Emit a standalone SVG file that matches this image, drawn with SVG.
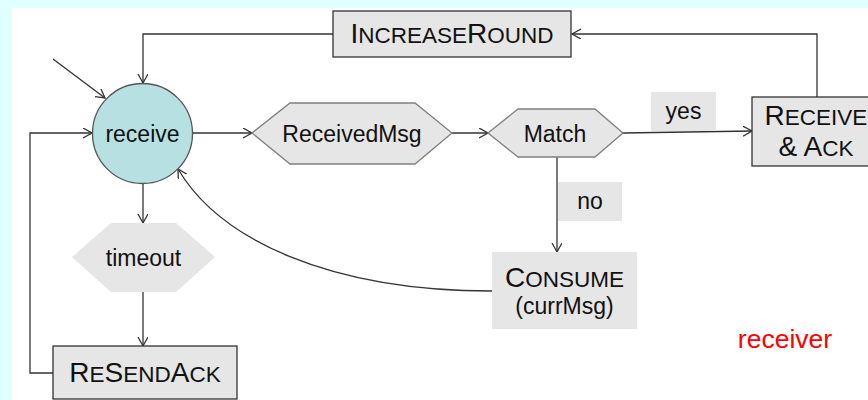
<svg xmlns="http://www.w3.org/2000/svg" width="868" height="400" viewBox="0 0 868 400">
  <defs>
    <marker id="arr" markerUnits="userSpaceOnUse" markerWidth="12" markerHeight="12" refX="9" refY="5" orient="auto">
      <path d="M0,0 L9,5 L0,10" fill="none" stroke="#333" stroke-width="1.3"/>
    </marker>
    <style>
      text { font-family: "Liberation Sans", Arial, sans-serif; fill: #111; }
      .t { font-size: 23px; }
      .cap { font-size: 28px; }
      .sc { font-size: 22.5px; }
      .box { fill: #e6e6e6; stroke: #333; stroke-width: 1.3; }
      .flat { fill: #e6e6e6; stroke: none; }
      .hex { fill: #e6e6e6; stroke: #808080; stroke-width: 1.3; }
      .edge { fill: none; stroke: #333; stroke-width: 1.3; }
    </style>
  </defs>

  <!-- page background -->
  <rect x="0" y="0" width="868" height="400" fill="#e0ffff"/>
  <rect x="12" y="8" width="856" height="392" fill="#ffffff"/>

  <!-- connectors -->
  <g id="connectors">
    <line class="edge" x1="53" y1="59" x2="105" y2="98" marker-end="url(#arr)"/>
    <polyline class="edge" points="333,34 143,34 143,83" marker-end="url(#arr)"/>
    <polyline class="edge" points="817,97 817,34 572,34" marker-end="url(#arr)"/>
    <polyline class="edge" points="53,373 30,373 30,133 92,133" marker-end="url(#arr)"/>
    <line class="edge" x1="143" y1="184" x2="143" y2="223" marker-end="url(#arr)"/>
    <line class="edge" x1="143" y1="292" x2="143" y2="346" marker-end="url(#arr)"/>
    <line class="edge" x1="193" y1="133" x2="252" y2="133" marker-end="url(#arr)"/>
    <line class="edge" x1="452" y1="133" x2="488" y2="133" marker-end="url(#arr)"/>
    <line class="edge" x1="623" y1="133" x2="752" y2="131" marker-end="url(#arr)"/>
    <line class="edge" x1="557" y1="157" x2="557" y2="252" marker-end="url(#arr)"/>
    <path class="edge" d="M492,291 C330,291 220,240 178,169" marker-end="url(#arr)"/>
  </g>

  <!-- edge labels -->
  <g id="label-yes">
    <rect class="flat" x="651" y="92" width="65" height="39"/>
    <text class="t" x="683.5" y="119" text-anchor="middle">yes</text>
  </g>
  <g id="label-no">
    <rect class="flat" x="558" y="182" width="64" height="39"/>
    <text class="t" x="590" y="209" text-anchor="middle">no</text>
  </g>

  <!-- nodes -->
  <g id="receive">
    <circle cx="142.5" cy="133.5" r="50" fill="#b7e0e3" stroke="#555" stroke-width="1.3"/>
    <text class="t" x="142.5" y="141.5" text-anchor="middle">receive</text>
  </g>

  <g id="increase-round">
    <rect class="box" x="333" y="11" width="238" height="46"/>
    <text x="452" y="43" text-anchor="middle"><tspan class="cap">I</tspan><tspan class="sc">NCREASE</tspan><tspan class="cap">R</tspan><tspan class="sc">OUND</tspan></text>
  </g>

  <g id="received-msg">
    <polygon class="hex" points="252,133 290,103 415,103 452,133 415,164 290,164"/>
    <text class="t" x="352" y="141.5" text-anchor="middle">ReceivedMsg</text>
  </g>

  <g id="match">
    <polygon class="hex" points="488,133 518,109 595,109 623,133 595,157 518,157"/>
    <text class="t" x="555" y="141.5" text-anchor="middle">Match</text>
  </g>

  <g id="receive-ack">
    <rect class="box" x="752" y="97" width="128" height="69"/>
    <text x="816" y="125" text-anchor="middle"><tspan class="cap">R</tspan><tspan class="sc">ECEIVE</tspan></text>
    <text x="816" y="156" text-anchor="middle"><tspan class="cap">&amp; A</tspan><tspan class="sc">CK</tspan></text>
  </g>

  <g id="timeout">
    <polygon class="flat" points="72,257 111,223 176,223 215,257 176,292 111,292"/>
    <text class="t" x="143.5" y="266" text-anchor="middle">timeout</text>
  </g>

  <g id="consume">
    <rect class="flat" x="492" y="252" width="145" height="77"/>
    <text x="564.5" y="287" text-anchor="middle"><tspan class="cap">C</tspan><tspan class="sc">ONSUME</tspan></text>
    <text class="t" x="564.5" y="314" text-anchor="middle">(currMsg)</text>
  </g>

  <g id="resend-ack">
    <rect class="box" x="53" y="346" width="184" height="53"/>
    <text x="145" y="382" text-anchor="middle"><tspan class="cap">R</tspan><tspan class="sc">E</tspan><tspan class="cap">S</tspan><tspan class="sc">END</tspan><tspan class="cap">A</tspan><tspan class="sc">CK</tspan></text>
  </g>

  <g id="receiver-title">
    <text x="785" y="348" text-anchor="middle" font-size="26.5" style="fill:#ff0000">receiver</text>
  </g>
</svg>
